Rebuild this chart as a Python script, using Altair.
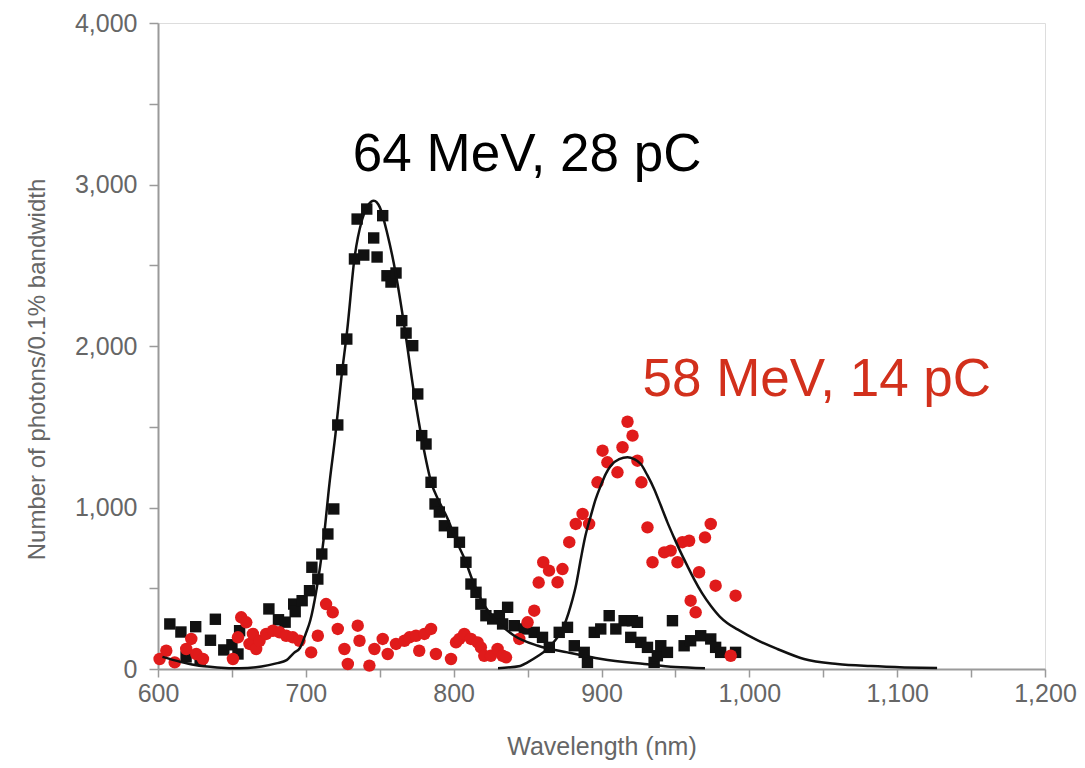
import altair as alt
import pandas as pd

# ---- data ----
black_x = [608, 615.5, 619, 625.5, 628.5, 635.5, 638.8, 644.5, 650, 654.1, 655.2, 675, 681.5, 686, 691.8,
           692.8, 697.5, 702.5, 704.1, 708.1, 710.8, 714.9, 718.9, 721.6, 724.3, 727.7, 732.9, 734.7, 739.2,
           741.2, 745.9, 748.2, 752.0, 754.9, 757.6, 761.0, 764.9, 767.8, 772.3, 775.7, 778.4, 781.3, 784.7,
           787.4, 790.3, 793.7, 799.3, 803.9, 808.3, 811.7, 815.1, 818.4, 821.8, 826.4, 830.9, 833.1, 836.5,
           841.0, 847.8, 854.5, 860.1, 864.7, 871.4, 877.0, 881.6, 888.3, 890.5, 895.1, 899.5, 905.2, 909.7,
           915.3, 919.8, 920.9, 924.3, 926.6, 931.1, 935.6, 937.8, 940.1, 944.6, 948.0, 955.9, 960.3, 967.1,
           973.9, 977.2, 980.6, 990.7]
black_y = [279, 229, 75, 262, 55, 178, 308, 118, 150, 93, 237, 372, 305, 290, 402,
           355, 423, 485, 630, 557, 712, 836, 991, 1511, 1853, 2043, 2539, 2786, 2563,
           2848, 2669, 2551, 2807, 2435, 2396, 2452, 2157, 2080, 2002, 1703, 1445, 1393, 1156,
           1022, 972, 887, 846, 785, 661, 526, 475, 402, 330, 310, 330, 279, 382,
           268, 248, 227, 196, 134, 227, 258, 144, 103, 41, 227, 248, 330, 248,
           299, 196, 299, 289, 165, 134, 41, 82, 144, 103, 299, 144, 175, 206,
           186, 134, 103, 103]

red_x = [601.1, 605.6, 611.3, 619.1, 622.5, 625.9, 630.4, 650.7, 654.1, 656.3, 659.7, 661.9, 664.2, 666.4,
         668.7, 673.2, 677.7, 682.2, 686.7, 691.2, 695.7, 703.6, 708.1, 713.7, 718.2, 721.6, 726.1, 728.4,
         735.1, 736.3, 743, 746.4, 752, 755.4, 761, 766.7, 770.1, 774.5, 776.7, 780.2, 784.7, 788, 798.2,
         801.6, 803.9, 807.2, 811.7, 816.2, 818.4, 820.7, 825.2, 829.7, 833.1, 835.4, 844.4, 850, 854.5,
         857.5, 860.6, 864.5, 870.3, 873.6, 878.2, 882.6, 887.2, 891.6, 897.3, 900.7, 904, 910.8, 914.2,
         917.6, 921, 924.3, 927, 931.1, 934.5, 942.4, 946.8, 951.4, 954.7, 959.3, 960.3, 963.7, 966, 970,
         973.9, 977.2, 987.4, 990.7]
red_y = [62, 113, 41, 124, 186, 93, 62, 62, 196, 320, 289, 155, 217, 124,
         175, 217, 237, 227, 206, 196, 175, 103, 206, 402, 351, 248, 124, 31,
         268, 175, 21, 124, 186, 93, 155, 175, 196, 206, 113, 217, 248, 93, 62,
         165, 186, 217, 186, 165, 134, 82, 82, 124, 82, 72, 186, 289, 361,
         535, 661, 609, 537, 619, 785, 898, 960, 898, 1156, 1352, 1280, 1218, 1373,
         1531, 1445, 1290, 1156, 877, 661, 722, 733, 661, 785, 794, 423, 351, 599, 815,
         898, 516, 82, 454]

fit1_x = [603, 615, 625, 640, 655, 670, 680, 687, 692, 696, 700, 703, 707, 712, 716, 720, 724, 728, 733,
          738, 742, 746, 750, 755, 761, 767, 773, 779, 785, 790, 796, 802, 807, 814, 821, 830, 841, 857,
          877, 900, 929, 950, 970]
fit1_y = [75, 45, 25, 10, 4, 15, 35, 55, 100, 130, 220, 300, 480, 800, 1150, 1450, 1800, 2100, 2550,
          2780, 2870, 2900, 2860, 2700, 2440, 2100, 1720, 1400, 1150, 1040, 929, 790, 690, 520, 390, 290,
          206, 144, 103, 62, 31, 12, 5]

fit2_x = [830, 845, 850, 857, 863.5, 868, 872.4, 876, 879.2, 883, 886, 889, 892.8, 896, 899.5, 903, 906.3,
          912, 917.6, 922, 926.6, 931, 935.6, 940, 944.6, 949, 953.6, 958, 962.6, 968, 973.9, 980, 985,
          992, 1005, 1019, 1037, 1059.5, 1082, 1105, 1127]
fit2_y = [5, 19, 41, 80, 124, 170, 227, 300, 392, 530, 681, 820, 949, 1050, 1135, 1210, 1259,
          1300, 1311, 1300, 1269, 1200, 1115, 1015, 908, 815, 722, 640, 557, 470, 392, 325, 285,
          245, 180, 124, 62, 31, 18, 10, 6]

label_text = ["64 MeV, 28 pC", "58 MeV, 14 pC"]
label_x = [731.8, 927.7]
label_y = [3084, 1690]
label_color = ["#000000", "#d2301c"]

# ---- tables ----
df_b = pd.DataFrame({"wl": black_x, "n": black_y})
df_r = pd.DataFrame({"wl": red_x, "n": red_y})
df_f1 = pd.DataFrame({"wl": fit1_x, "n": fit1_y})
df_f2 = pd.DataFrame({"wl": fit2_x, "n": fit2_y})
df_t = pd.DataFrame({"wl": label_x, "n": label_y, "t": label_text, "c": label_color})

AX_GRAY = "#9a9a9a"
LBL_GRAY = "#666666"
FONT = "Liberation Sans, Arial, sans-serif"

xscale = alt.Scale(domain=[600, 1200], nice=False, zero=False)
yscale = alt.Scale(domain=[0, 4000], nice=False)

xaxis = alt.Axis(
    title="Wavelength (nm)",
    values=list(range(600, 1201, 50)),
    labelExpr="datum.value % 100 == 0 ? format(datum.value, ',') : ''",
    labelFlush=False, labelOverlap=False,
    grid=False, domainColor=AX_GRAY, domainWidth=2, tickColor=AX_GRAY, tickWidth=1.5, tickSize=8,
    labelFont=FONT, labelFontSize=25, labelColor=LBL_GRAY, labelPadding=4,
    titleFont=FONT, titleFontSize=25, titleFontWeight="normal", titleColor=LBL_GRAY, titlePadding=28,
)
yaxis = alt.Axis(
    title="Number of photons/0.1% bandwidth",
    values=list(range(0, 4001, 500)),
    labelExpr="datum.value % 1000 == 0 ? format(datum.value, ',') : ''",
    labelFlush=False, labelOverlap=False,
    grid=False, domainColor=AX_GRAY, domainWidth=2, tickColor=AX_GRAY, tickWidth=1.5, tickSize=9,
    labelFont=FONT, labelFontSize=25, labelColor=LBL_GRAY, labelPadding=12,
    titleFont=FONT, titleFontSize=24, titleFontWeight="normal", titleColor=LBL_GRAY,
    titleX=-109, titleY=346, titleAngle=270, titleAlign="center", titleBaseline="bottom",
)

X = alt.X("wl:Q", scale=xscale, axis=xaxis)
Y = alt.Y("n:Q", scale=yscale, axis=yaxis)

squares = alt.Chart(df_b).mark_point(shape="square", filled=True, size=130, color="#111111", opacity=1).encode(x=X, y=Y)
circles = alt.Chart(df_r).mark_circle(size=155, color="#e01b1b", opacity=1).encode(x=X, y=Y)
line1 = alt.Chart(df_f1).mark_line(color="#111111", strokeWidth=2.5, interpolate="monotone").encode(x=X, y=Y)
line2 = alt.Chart(df_f2).mark_line(color="#111111", strokeWidth=2.5, interpolate="monotone").encode(x=X, y=Y)
texts = alt.Chart(df_t).mark_text(align="left", baseline="alphabetic", font=FONT,
                                  fontSize=53).encode(
    x=X, y=Y, text="t:N", color=alt.Color("c:N", scale=None))

chart = alt.layer(squares, circles, line1, line2, texts).properties(
    width=887, height=646,
    autosize=alt.AutoSizeParams(type="none"),
    padding={"left": 150, "top": 15, "right": 32, "bottom": 91},
).configure_view(stroke=AX_GRAY, strokeWidth=2).configure(background="white")

chart.save("out.html", embed_options={"renderer": "svg", "actions": False})
